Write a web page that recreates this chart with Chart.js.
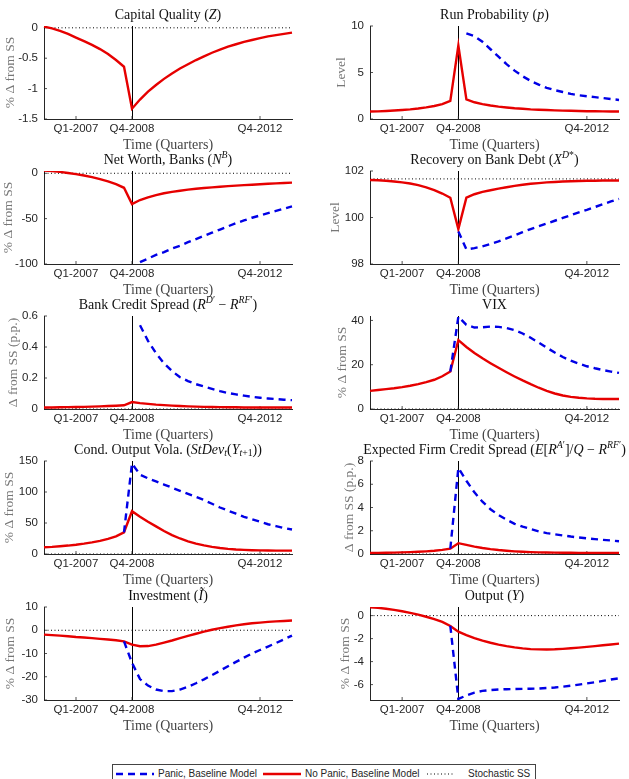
<!DOCTYPE html>
<html>
<head>
<meta charset="utf-8">
<script src="https://cdn.jsdelivr.net/npm/chart.js@4.4.0/dist/chart.umd.min.js"></script>
<style>
html, body { margin: 0; padding: 0; background: #fff; }
#page { position: relative; width: 629px; height: 779px; overflow: hidden; }
#page canvas { position: absolute; }
#legend { position: absolute; left: 112px; top: 764px; width: 422px; height: 22px; border: 1px solid #444; background: #fff;
  font-family: "Liberation Sans", Arial, sans-serif; font-size: 10px; color: #262626; }
#legend span { position: absolute; top: 3px; line-height: 12px; white-space: nowrap; }
#legend svg { position: absolute; top: 6px; }
</style>
</head>
<body>
<div id="page">
  <div id="legend">
    <svg style="left:3px" width="38" height="6"><line x1="0" y1="3" x2="38" y2="3" stroke="rgb(0,0,230)" stroke-width="2.4" stroke-dasharray="7 5"/></svg>
    <span style="left:45px">Panic, Baseline Model</span>
    <svg style="left:150px" width="38" height="6"><line x1="0" y1="3" x2="38" y2="3" stroke="rgb(230,0,0)" stroke-width="2.4"/></svg>
    <span style="left:192px">No Panic, Baseline Model</span>
    <svg style="left:314px" width="28" height="6"><line x1="0" y1="3" x2="28" y2="3" stroke="#000" stroke-width="1" stroke-dasharray="1 2.5"/></svg>
    <span style="left:355px">Stochastic SS</span>
  </div>
</div>
<script>
// quarters Q1-2006 .. Q4-2013
const quarters = [];
for (let yr = 2006; yr <= 2013; yr++) {
    for (let q = 1; q <= 4; q++) quarters.push('Q' + q + '-' + yr);
}
const xTickLabels = ['Q1-2007', 'Q4-2008', 'Q4-2012'];
const shockQuarter = 'Q4-2008';

// Capital quality
const capQualityNoPanic = [0.02, -0.01, -0.05, -0.10, -0.16, -0.22, -0.28, -0.35, -0.43, -0.53, -0.64, -1.33,
    -1.18, -1.05, -0.94, -0.84, -0.75, -0.67, -0.60, -0.53, -0.47, -0.41, -0.36, -0.31, -0.27, -0.23, -0.20, -0.17,
    -0.14, -0.12, -0.10, -0.08];
const capQualityTicks = [-1.5, -1, -0.5, 0];

// Run probability
const runProbNoPanic = [0.80, 0.82, 0.86, 0.91, 0.97, 1.04, 1.13, 1.25, 1.40, 1.60, 1.95, 7.90,
    2.10, 1.80, 1.60, 1.45, 1.33, 1.24, 1.16, 1.10, 1.04, 1.00, 0.96, 0.93, 0.90, 0.88, 0.86, 0.84,
    0.83, 0.82, 0.81, 0.80];
const runProbPanic = [null, null, null, null, null, null, null, null, null, null, null, null,
    9.2, 8.9, 8.3, 7.5, 6.7, 5.9, 5.2, 4.6, 4.1, 3.7, 3.35, 3.1, 2.9, 2.7, 2.55, 2.45, 2.35, 2.25, 2.15, 2.05];
const runProbTicks = [0, 5, 10];

// Net worth, banks
const netWorthNoPanic = [3, 2.5, 1.5, 0.3, -1, -2.5, -4.3, -6.5, -9, -12, -16, -34,
    -29.5, -26.5, -24, -22, -20.5, -19.2, -18, -17, -16.2, -15.5, -14.8, -14.2, -13.6, -13.1, -12.6, -12.1,
    -11.6, -11.1, -10.7, -10.3];
const netWorthPanic = [null, null, null, null, null, null, null, null, null, null, null, null,
    -98, -94, -90, -87, -83, -80, -76, -72.5, -69, -65.5, -62, -58.5, -55, -52, -49, -46.5, -44, -41.5, -39, -36.5];
const netWorthTicks = [-100, -50, 0];

// Recovery on bank debt
const recoveryNoPanic = [101.61, 101.60, 101.58, 101.55, 101.51, 101.46, 101.39, 101.30, 101.18, 101.03, 100.85, 99.50,
    100.85, 101.00, 101.10, 101.17, 101.24, 101.30, 101.36, 101.41, 101.45, 101.48, 101.51, 101.53, 101.55, 101.56,
    101.57, 101.58, 101.58, 101.59, 101.59, 101.59];
const recoveryPanic = [null, null, null, null, null, null, null, null, null, null, null, 99.40,
    98.63, 98.68, 98.76, 98.86, 98.97, 99.10, 99.23, 99.37, 99.50, 99.62, 99.74, 99.86, 99.98, 100.10, 100.22,
    100.33, 100.45, 100.57, 100.69, 100.80];
const recoverySS = 101.66;
const recoveryTicks = [98, 100, 102];

// Bank credit spread
const bankSpreadNoPanic = [0.010, 0.010, 0.011, 0.012, 0.013, 0.014, 0.015, 0.017, 0.019, 0.021, 0.024, 0.045,
    0.038, 0.033, 0.028, 0.025, 0.022, 0.019, 0.017, 0.015, 0.014, 0.013, 0.012, 0.011, 0.011, 0.010, 0.010,
    0.010, 0.010, 0.010, 0.010, 0.010];
const bankSpreadPanic = [null, null, null, null, null, null, null, null, null, null, null, null,
    0.54, 0.44, 0.36, 0.295, 0.245, 0.205, 0.18, 0.16, 0.145, 0.13, 0.115, 0.103, 0.094, 0.086, 0.079, 0.073,
    0.068, 0.064, 0.060, 0.057];
const bankSpreadTicks = [0, 0.2, 0.4, 0.6];

// VIX
const vixNoPanic = [8.2, 8.6, 9.0, 9.4, 9.9, 10.5, 11.2, 12.1, 13.2, 14.8, 16.9, 31.1,
    28.0, 25.3, 22.9, 20.7, 18.6, 16.6, 14.7, 12.9, 11.2, 9.6, 8.2, 7.0, 6.1, 5.5, 5.1, 4.8, 4.6, 4.5, 4.5, 4.5];
const vixPanic = [null, null, null, null, null, null, null, null, null, null, 16.9, 41.7,
    38.0, 36.8, 36.9, 37.2, 37.1, 36.6, 35.6, 34.1, 32.2, 30.0, 27.7, 25.5, 23.5, 21.8, 20.5, 19.3,
    18.4, 17.6, 16.9, 16.3];
const vixTicks = [0, 20, 40];

// Conditional output volatility
const outVolNoPanic = [10.8, 11.5, 12.5, 13.6, 15.0, 16.7, 18.7, 21.2, 24.3, 28.5, 35.0, 69.0,
    60.0, 52.0, 44.5, 37.0, 30.5, 25.0, 20.5, 16.8, 13.8, 11.5, 9.7, 8.3, 7.3, 6.6, 6.1, 5.8, 5.6, 5.5, 5.4, 5.4];
const outVolPanic = [null, null, null, null, null, null, null, null, null, null, 35, 146,
    128, 122, 117, 112, 107, 102, 97, 92, 87, 81, 75, 70, 65, 60, 56, 52, 48, 45, 42, 39.5];
const outVolTicks = [0, 50, 100, 150];

// Expected firm credit spread
const firmSpreadNoPanic = [0.09, 0.10, 0.11, 0.12, 0.14, 0.16, 0.19, 0.23, 0.28, 0.35, 0.46, 0.93,
    0.78, 0.64, 0.52, 0.42, 0.34, 0.28, 0.23, 0.19, 0.16, 0.14, 0.13, 0.12, 0.11, 0.11, 0.10, 0.10,
    0.10, 0.10, 0.10, 0.10];
const firmSpreadPanic = [null, null, null, null, null, null, null, null, null, null, 0.46, 7.4,
    6.3, 5.3, 4.5, 3.85, 3.35, 2.95, 2.6, 2.35, 2.15, 1.95, 1.8, 1.7, 1.6, 1.5, 1.42, 1.35, 1.28, 1.22, 1.16, 1.1];
const firmSpreadTicks = [0, 2, 4, 6, 8];

// Investment
const investNoPanic = [-1.9, -2.1, -2.3, -2.6, -2.9, -3.1, -3.4, -3.7, -4.0, -4.3, -4.8, -6.2,
    -6.9, -6.8, -6.2, -5.3, -4.4, -3.4, -2.4, -1.5, -0.6, 0.2, 0.9, 1.5, 2.1, 2.6, 3.0, 3.3, 3.6, 3.8, 4.0, 4.2];
const investPanic = [null, null, null, null, null, null, null, null, null, null, -4.8, -14,
    -21, -23.8, -25.5, -26.2, -26.2, -25.5, -24.3, -22.8, -21.1, -19.3, -17.4, -15.5, -13.6, -11.8, -10.0,
    -8.5, -7.0, -5.5, -3.9, -2.3];
const investTicks = [-30, -20, -10, 0, 10];

// Output
const outputNoPanic = [0.72, 0.68, 0.60, 0.50, 0.38, 0.24, 0.08, -0.10, -0.30, -0.55, -0.90, -1.40,
    -1.70, -1.95, -2.17, -2.36, -2.52, -2.65, -2.76, -2.85, -2.91, -2.94, -2.95, -2.93, -2.89, -2.84, -2.78,
    -2.72, -2.65, -2.58, -2.51, -2.44];
const outputPanic = [null, null, null, null, null, null, null, null, null, null, -0.9, -7.25,
    -6.95, -6.7, -6.55, -6.47, -6.42, -6.4, -6.38, -6.37, -6.36, -6.34, -6.3, -6.25, -6.18, -6.1, -6.0,
    -5.9, -5.8, -5.68, -5.56, -5.45];
const outputTicks = [-6, -4, -2, 0];

const RED = 'rgb(230,0,0)';
const BLUE = 'rgb(0,0,230)';
const AXIS = '#262626';
const SERIF = '"Liberation Serif", "Times New Roman", serif';
const SANS = '"Liberation Sans", Arial, sans-serif';

const pctSS = '% Δ from SS';
const ppSS = 'Δ from SS (p.p.)';

const panels = [
    { row: 0, col: 0, title: 'Capital Quality ($Z$)', yLabel: pctSS, yPad: 2, min: -1.5, max: 0.03, ticks: capQualityTicks, noPanic: capQualityNoPanic, panic: null, ss: 0 },
    { row: 0, col: 1, title: 'Run Probability ($p$)', yLabel: 'Level', yPad: 23, min: 0, max: 10, ticks: runProbTicks, noPanic: runProbNoPanic, panic: runProbPanic, ss: null },
    { row: 1, col: 0, title: 'Net Worth, Banks ($N^{B}$)', yLabel: pctSS, yPad: 0, min: -100, max: 2.5, ticks: netWorthTicks, noPanic: netWorthNoPanic, panic: netWorthPanic, ss: 0 },
    { row: 1, col: 1, title: 'Recovery on Bank Debt ($X^{D*}$)', yLabel: 'Level', yPad: 17, min: 98, max: 102, ticks: recoveryTicks, noPanic: recoveryNoPanic, panic: recoveryPanic, ss: recoverySS },
    { row: 2, col: 0, title: 'Bank Credit Spread ($R^{D′} − R^{RF′}$)', yLabel: ppSS, yPad: 5, min: 0, max: 0.6, ticks: bankSpreadTicks, noPanic: bankSpreadNoPanic, panic: bankSpreadPanic, ss: 0 },
    { row: 2, col: 1, title: 'VIX', yLabel: pctSS, yPad: 24, min: 0, max: 42, ticks: vixTicks, noPanic: vixNoPanic, panic: vixPanic, ss: 0 },
    { row: 3, col: 0, title: 'Cond. Output Vola. ($StDev_{t}(Y_{t+1})$)', yLabel: pctSS, yPad: 1, min: 0, max: 150, ticks: outVolTicks, noPanic: outVolNoPanic, panic: outVolPanic, ss: 0 },
    { row: 3, col: 1, title: 'Expected Firm Credit Spread ($E[R^{A′}]/Q − R^{RF′}$)', yLabel: ppSS, yPad: 31, min: 0, max: 8, ticks: firmSpreadTicks, noPanic: firmSpreadNoPanic, panic: firmSpreadPanic, ss: 0 },
    { row: 4, col: 0, title: 'Investment ($Ĩ$)', yLabel: pctSS, yPad: 2, min: -30, max: 10, ticks: investTicks, noPanic: investNoPanic, panic: investPanic, ss: 0 },
    { row: 4, col: 1, title: 'Output ($Y$)', yLabel: pctSS, yPad: 27, min: -7.34, max: 0.75, ticks: outputTicks, noPanic: outputNoPanic, panic: outputPanic, ss: 0 }
];

// layout of the grid (pixels)
const rowBottoms = [119, 264, 409, 554, 700];
const colLeft = [0, 310];
const colWidth = [300, 319];
const axisWidth = [44, 60];
const padRight = [8, 10];
const plotHeight = 93;
const titleSpace = 27;
const xAxisSpace = 38;

// split "text ($math^{sup}_{sub}$)" into styled runs
function parseRich(str) {
    const chars = [];
    let math = false;
    let i = 0;
    while (i < str.length) {
        const c = str[i];
        if (c === '$') { math = !math; i++; continue; }
        if (math && (c === '^' || c === '_')) {
            const level = c === '^' ? 1 : -1;
            i++;
            let txt;
            if (str[i] === '{') {
                const j = str.indexOf('}', i);
                txt = str.slice(i + 1, j);
                i = j + 1;
            } else {
                txt = str[i];
                i++;
            }
            for (const ch of txt) chars.push({ ch, italic: /\p{L}/u.test(ch), level });
            continue;
        }
        chars.push({ ch: c, italic: math && /\p{L}/u.test(c), level: 0 });
        i++;
    }
    const runs = [];
    chars.forEach(c => {
        const last = runs[runs.length - 1];
        if (last && last.italic === c.italic && last.level === c.level) last.text += c.ch;
        else runs.push({ text: c.ch, italic: c.italic, level: c.level });
    });
    return runs;
}

function drawRich(ctx, str, cx, cy, size) {
    const runs = parseRich(str);
    const fontOf = r => (r.italic ? 'italic ' : '') + (r.level ? size * 0.7 : size) + 'px ' + SERIF;
    let total = 0;
    runs.forEach(r => { ctx.font = fontOf(r); r.w = ctx.measureText(r.text).width; total += r.w; });
    let x = cx - total / 2;
    ctx.textAlign = 'left';
    ctx.textBaseline = 'middle';
    runs.forEach(r => {
        ctx.font = fontOf(r);
        const dy = r.level > 0 ? -0.33 * size : (r.level < 0 ? 0.22 * size : 0);
        ctx.fillText(r.text, x, cy + dy);
        x += r.w;
    });
}

const decorPlugin = {
    id: 'decor',
    beforeDatasetsDraw(chart) {
        const { ctx, chartArea: a, scales: { x, y } } = chart;
        ctx.save();
        // shock date marker
        const px = Math.round(x.getPixelForValue(quarters.indexOf(shockQuarter))) + 0.5;
        ctx.strokeStyle = '#000';
        ctx.lineWidth = 1;
        ctx.beginPath();
        ctx.moveTo(px, a.top);
        ctx.lineTo(px, a.bottom);
        ctx.stroke();
        // inward tick marks
        ctx.strokeStyle = AXIS;
        ctx.lineWidth = 0.8;
        ctx.beginPath();
        x.ticks.forEach(t => {
            const p = x.getPixelForValue(t.value);
            ctx.moveTo(p, a.bottom);
            ctx.lineTo(p, a.bottom - 3);
        });
        y.ticks.forEach(t => {
            const p = y.getPixelForValue(t.value);
            ctx.moveTo(a.left, p);
            ctx.lineTo(a.left + 3, p);
        });
        ctx.stroke();
        ctx.restore();
    },
    afterDraw(chart, args, opts) {
        const { ctx, chartArea: a } = chart;
        ctx.save();
        ctx.fillStyle = '#111';
        drawRich(ctx, opts.title, (a.left + a.right) / 2, a.top - 10.5, 14);
        ctx.restore();
    }
};

const page = document.getElementById('page');

panels.forEach(p => {
    const cv = document.createElement('canvas');
    const w = colWidth[p.col];
    const h = titleSpace + plotHeight + xAxisSpace;
    cv.width = w;
    cv.height = h;
    cv.style.left = colLeft[p.col] + 'px';
    cv.style.top = (rowBottoms[p.row] - plotHeight - titleSpace) + 'px';
    page.appendChild(cv);

    const datasets = [];
    if (p.panic) {
        datasets.push({
            label: 'Panic, Baseline Model', data: p.panic,
            borderColor: BLUE, borderWidth: 2.4, borderDash: [7, 5], pointRadius: 0, tension: 0
        });
    }
    datasets.push({
        label: 'No Panic, Baseline Model', data: p.noPanic,
        borderColor: RED, borderWidth: 2.4, pointRadius: 0, tension: 0
    });
    if (p.ss !== null) {
        datasets.push({
            label: 'Stochastic SS',
            data: [{ x: quarters[0], y: p.ss }, { x: quarters[quarters.length - 1], y: p.ss }],
            borderColor: '#000', borderWidth: 1, borderDash: [1, 2.5], pointRadius: 0
        });
    }

    new Chart(cv, {
        type: 'line',
        data: { labels: quarters, datasets: datasets },
        options: {
            responsive: false,
            animation: false,
            devicePixelRatio: 1,
            layout: { padding: { top: titleSpace, right: padRight[p.col], left: 0, bottom: 0 } },
            plugins: {
                legend: { display: false },
                tooltip: { enabled: false },
                decor: { title: p.title }
            },
            scales: {
                x: {
                    type: 'category',
                    grid: { display: false, drawTicks: false },
                    border: { display: true, color: AXIS, width: 1 },
                    ticks: { autoSkip: false, maxRotation: 0, padding: 3, color: AXIS, font: { family: SANS, size: 11.5 } },
                    afterBuildTicks: s => { s.ticks = xTickLabels.map(l => ({ value: quarters.indexOf(l) })); },
                    afterFit: s => { s.height = xAxisSpace; },
                    title: { display: true, text: 'Time (Quarters)', color: '#444', font: { family: SERIF, size: 14 }, padding: { top: 0, bottom: 3 } }
                },
                y: {
                    type: 'linear',
                    min: p.min,
                    max: p.max,
                    grid: { display: false, drawTicks: false },
                    border: { display: true, color: AXIS, width: 1 },
                    ticks: { padding: 6, color: AXIS, font: { family: SANS, size: 11.5 }, callback: v => String(v) },
                    afterBuildTicks: s => { s.ticks = p.ticks.map(v => ({ value: v })); },
                    afterFit: s => { s.width = axisWidth[p.col]; },
                    title: { display: true, text: p.yLabel, color: '#777', font: { family: SERIF, size: 13.5 }, padding: { top: p.yPad, bottom: 0 } }
                }
            }
        },
        plugins: [decorPlugin]
    });
});
</script>
</body>
</html>
